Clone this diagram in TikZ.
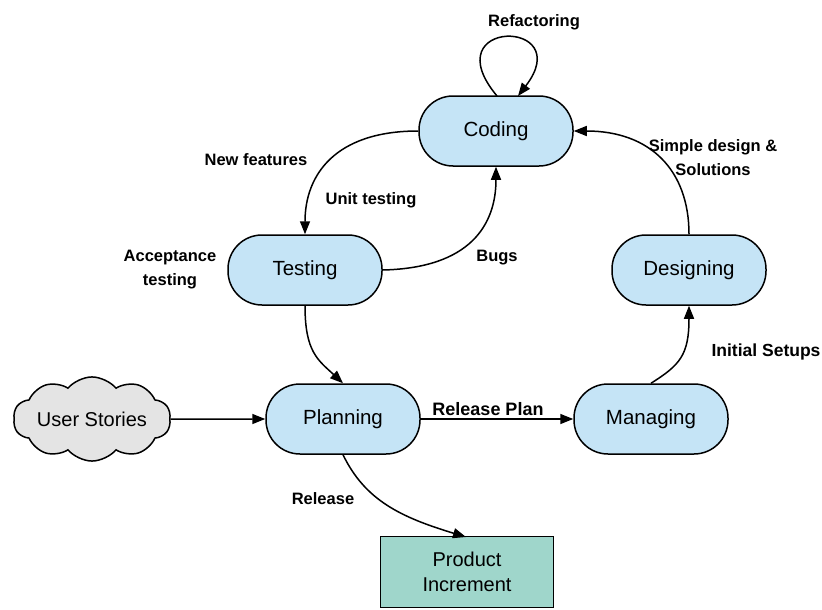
\documentclass[tikz,border=0pt]{standalone}
\usepackage{fontspec}
\setmainfont{Liberation Sans}
\usetikzlibrary{arrows.meta,shapes.symbols}
\definecolor{stateblue}{HTML}{C5E4F6}
\definecolor{cloudgray}{HTML}{E4E4E4}
\definecolor{productgreen}{HTML}{9FD6CB}
\begin{document}
\begin{tikzpicture}[x=1pt,y=-1pt,
  state/.style={draw,line width=1.5pt,fill=stateblue,rounded corners=34pt,
    minimum width=154pt,minimum height=70pt,inner sep=0pt,
    font=\fontsize{20.5}{24}\selectfont},
  story/.style={draw,line width=1.5pt,fill=cloudgray,cloud,cloud puffs=10,
    cloud puff arc=100,aspect=2.4,minimum width=146pt,minimum height=68pt,
    inner sep=0pt,font=\fontsize{20}{24}\selectfont},
  product/.style={draw,line width=1.5pt,fill=productgreen,
    minimum width=173pt,minimum height=71pt,inner sep=0pt,align=center,
    font=\fontsize{20}{25}\selectfont},
  lbl/.style={font=\bfseries\fontsize{16.5}{24}\selectfont,align=center,inner sep=0pt},
  flow/.style={line width=1.5pt,-{Triangle[length=13pt,width=10pt]}}
]
\useasboundingbox (0,0) rectangle (822,610);

\node[state] (coding) at (496,131) {Coding};
\node[state] (testing) at (305,270) {Testing};
\node[state] (designing) at (689,270) {Designing};
\node[state] (planning) at (343,419) {Planning};
\node[state] (managing) at (651,419) {Managing};
\node[story] (stories) at (92,419) {User Stories};
\node[product] (product) at (467,572) {Product\\Increment};

\coordinate (loopout) at (497,96);
\coordinate (loopin) at (518,96);
\coordinate (prodin) at (466,537);

% cycle of activities
\draw[flow] (loopout) .. controls (432,18) and (578,18) .. (loopin);
\draw[flow] (coding.west) .. controls (335,131) and (305,175) .. (testing.north);
\draw[flow] (testing.east) .. controls (470,268) and (496,225) .. (coding.south);
\draw[flow] (testing.south) .. controls (305,352) and (318,360) .. (planning.north);
\draw[flow] (stories.east) -- (planning.west);
\draw[flow] (planning.east) -- (managing.west);
\draw[flow] (managing.north) .. controls (680,365) and (689,355) .. (designing.south);
\draw[flow] (designing.north) .. controls (689,170) and (650,131) .. (coding.east);
\draw[flow] (planning.south) .. controls (365,500) and (400,517) .. (prodin);

% labels
\node[lbl] (lrefactor) at (534,22) {Refactoring};
\node[lbl] (lnew) at (256,160) {New features};
\node[lbl] (lunit) at (371,200) {Unit testing};
\node[lbl] (lbugs) at (497,258) {Bugs};
\node[lbl] (laccept) at (170,270) {Acceptance\\testing};
\node[lbl] (lsimple) at (713,158) {Simple design \&\\Solutions};
\node[lbl,font=\bfseries\fontsize{17.5}{24}\selectfont] (lsetup) at (766,352) {Initial Setups};
\node[lbl,font=\bfseries\fontsize{18}{24}\selectfont] (lplan) at (488,409) {Release Plan};
\node[lbl] (lrelease) at (323,499) {Release};
\end{tikzpicture}
\end{document}
